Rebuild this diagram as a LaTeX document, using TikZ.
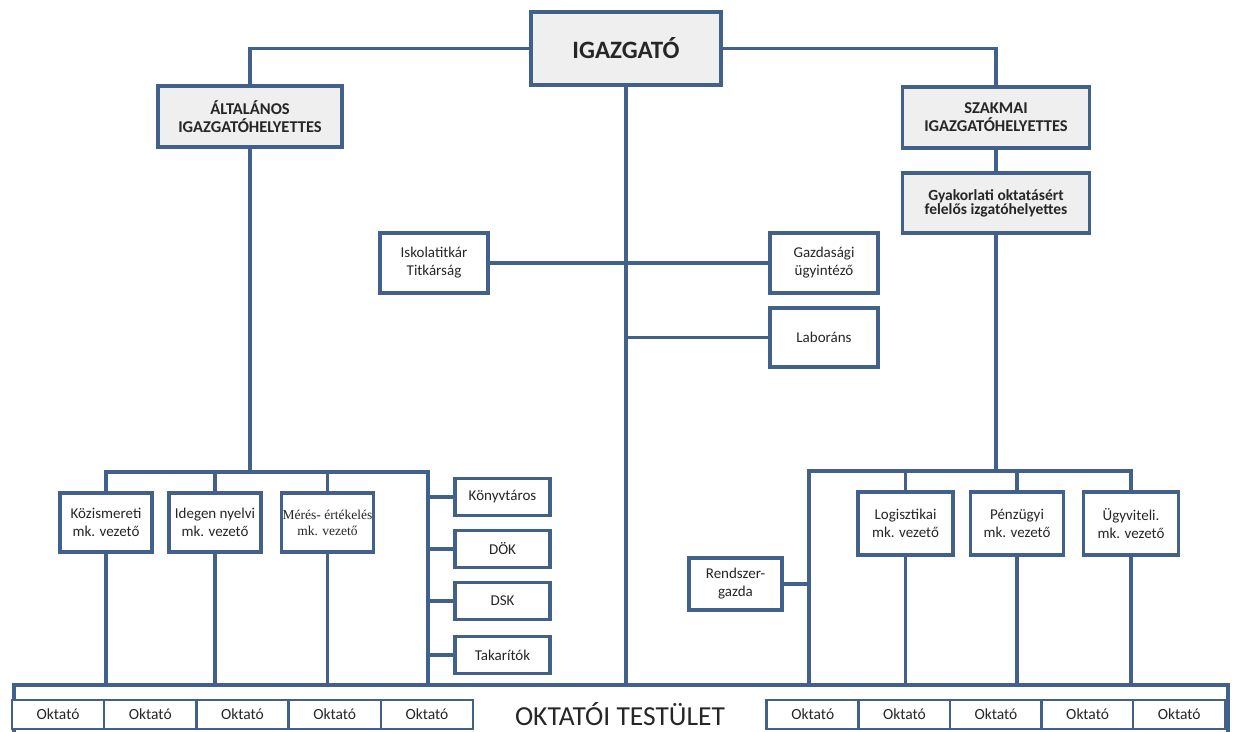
\documentclass[tikz,border=0pt]{standalone}
\usepackage{fontspec}
\setmainfont{Carlito}
\newfontfamily\serifb{Liberation Serif}
\definecolor{ln}{HTML}{41608A}
\definecolor{bx}{HTML}{EFEFEF}
\tikzset{
  box/.style={draw=ln, line width=3.5pt, fill=white, align=center, inner sep=1pt,
    text=black!85, font=\fontsize{15}{18}\selectfont},
  gbox/.style={box, fill=bx, font=\bfseries\fontsize{16.5}{18}\selectfont},
  cell/.style={draw=ln, line width=2.5pt, fill=white, minimum width=92.2pt,
    minimum height=29pt, inner sep=0pt, text=black!85, font=\fontsize{15.5}{17}\selectfont},
  conn/.style={draw=ln, line width=3.5pt},
}
\begin{document}
\begin{tikzpicture}[x=1pt, y=-1pt]
\useasboundingbox[fill=white] (0,0) rectangle (1234,731);
\clip (0,0) rectangle (1234,731);
% top
\node[gbox, minimum width=190pt, minimum height=73pt, font=\bfseries\fontsize{25}{28}\selectfont] (igaz) at (626,48.5) {IGAZGATÓ};
\node[gbox, minimum width=184pt, minimum height=61pt] (alt) at (250,116.5) {ÁLTALÁNOS\\IGAZGATÓHELYETTES};
\node[gbox, minimum width=187pt, minimum height=61pt] (szak) at (996,117.5) {SZAKMAI\\IGAZGATÓHELYETTES};
\node[gbox, minimum width=187pt, minimum height=60pt, font=\bfseries\fontsize{15.5}{14}\selectfont] (gyak) at (996,203) {Gyakorlati oktatásért\\felelős izgatóhelyettes};
% middle
\node[box, minimum width=108pt, minimum height=60pt] (isk) at (434,263) {Iskolatitkár\\Titkárság};
\node[box, minimum width=108pt, minimum height=60pt] (gazd) at (824,263) {Gazdasági\\ügyintéző};
\node[box, minimum width=108pt, minimum height=59pt] (labor) at (824,337.5) {Laboráns};
% left lower
\node[box, minimum width=92pt, minimum height=59pt] (kozi) at (106,522.5) {Közismereti\\mk. vezető};
\node[box, minimum width=92pt, minimum height=59pt] (ideg) at (215,522.5) {Idegen nyelvi\\mk. vezető};
\node[box, minimum width=92pt, minimum height=59pt, font=\serifb\fontsize{13.5}{16}\selectfont] (meres) at (327.5,522.5) {Mérés- értékelés\\mk. vezető};
\node[box, minimum width=95pt, minimum height=37pt] (konyv) at (502.5,497) {Könyvtáros};
\node[box, minimum width=95pt, minimum height=37pt] (dok) at (502.5,549) {DÖK};
\node[box, minimum width=95pt, minimum height=37pt] (dsk) at (502.5,601) {DSK};
\node[box, minimum width=95pt, minimum height=37pt] (tak) at (502.5,655) {Takarítók};
% right lower
\node[box, minimum width=93pt, minimum height=52pt] (rend) at (735.5,584) {Rendszer-\\gazda};
\node[box, minimum width=95pt, minimum height=63pt] (logi) at (905.5,523.5) {Logisztikai\\mk. vezető};
\node[box, minimum width=93pt, minimum height=63pt] (penz) at (1017,523.5) {Pénzügyi\\mk. vezető};
\node[box, minimum width=95pt, minimum height=63pt] (ugyv) at (1131,523.5) {Ügyviteli.\\mk. vezető};
% bottom frame
\node[draw=ln, line width=3.5pt, anchor=north west, minimum width=1214pt, minimum height=62pt, inner sep=0pt] (okt) at (12,683) {};
\node[text=black!85, font=\fontsize{27.5}{30}\selectfont] (testulet) at (620,714) {OKTATÓI TESTÜLET};
\foreach \i/\cx in {1/58.1,2/150.3,3/242.5,4/334.7,5/426.9}
  \node[cell] (ol\i) at (\cx,714.5) {Oktató};
\foreach \i/\cx in {1/812.8,2/904.4,3/996,4/1087.6,5/1179.2}
  \node[cell] (or\i) at (\cx,714.5) {Oktató};
% connectors top
\draw[conn] (igaz.west) -| (alt.north);
\draw[conn] (igaz.east) -| (szak.north);
\draw[conn] (szak.south) -- (gyak.north);
\draw[conn] (igaz.south) -- (igaz.south |- okt.north);
\draw[conn] (isk.east) -- (gazd.west);
\draw[conn] (labor.west) -- (labor.west -| igaz.south);
% left bus
\coordinate (lbus) at (250,472);
\coordinate (lcol) at (428,472);
\draw[conn] (alt.south) -- (lbus);
\draw[conn] (kozi.north) |- (lcol) -- (lcol |- okt.north);
\draw[conn] (ideg.north) -- (ideg.north |- lbus);
\draw[conn] (meres.north) -- (meres.north |- lbus);
\foreach \n in {konyv,dok,dsk,tak}
  \draw[conn] (\n.west) -- (\n.west -| lcol);
\foreach \n in {kozi,ideg,meres}
  \draw[conn] (\n.south) -- (\n.south |- okt.north);
% right bus
\coordinate (rbus) at (996,471);
\coordinate (rcol) at (809,471);
\draw[conn] (gyak.south) -- (rbus);
\draw[conn] (ugyv.north) |- (rcol) -- (rcol |- okt.north);
\draw[conn] (logi.north) -- (logi.north |- rbus);
\draw[conn] (penz.north) -- (penz.north |- rbus);
\draw[conn] (rend.east) -- (rend.east -| rcol);
\foreach \n in {logi,penz,ugyv}
  \draw[conn] (\n.south) -- (\n.south |- okt.north);
\end{tikzpicture}
\end{document}
